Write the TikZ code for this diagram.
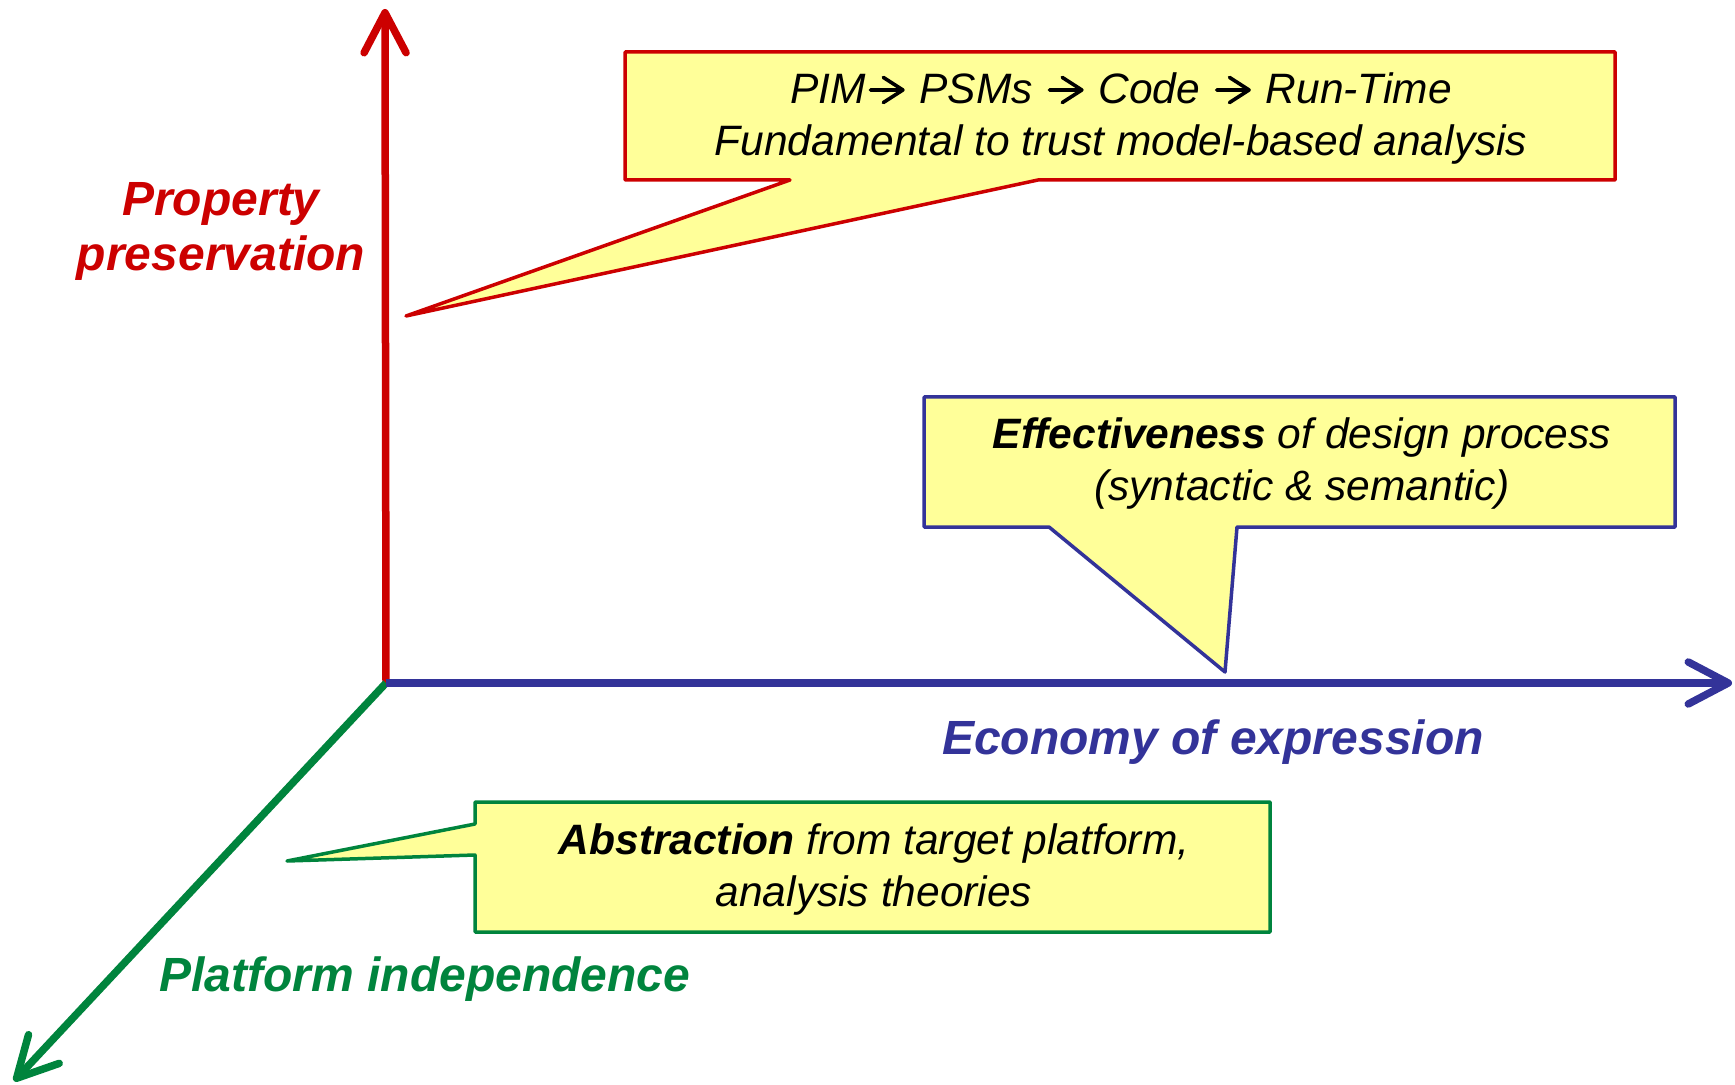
\documentclass[tikz,border=0pt]{standalone}
\usepackage{fontspec}
\setmainfont{Liberation Sans}
\usetikzlibrary{arrows.meta}
\definecolor{axred}{HTML}{CC0000}
\definecolor{axblue}{HTML}{333399}
\definecolor{axgreen}{HTML}{00843D}
\definecolor{notefill}{HTML}{FFFF99}
% upright chevron arrow used inside the transformation chain
\newcommand{\thru}{\hspace{1.5pt}\tikz[baseline=0pt,x=1pt,y=1pt]\draw[line width=1.8pt,line cap=round,line join=round]
  (0.9,7) -- (16.9,7) (7.3,13.3) -- (17.1,7) -- (7.3,0.7);\hspace{1.5pt}}
\begin{document}
\begin{tikzpicture}[x=0.5pt,y=-0.5pt,line join=round,
  axis/.style={line width=3.75pt,-{Straight Barb[length=20pt,width=21pt,round]}},
  axislabel/.style={font=\fontsize{24}{28}\selectfont\bfseries\itshape,align=center,inner sep=0pt},
  notebox/.style={fill=notefill,line width=1.75pt},
  notetext/.style={font=\fontsize{21.25}{26}\selectfont\itshape,align=center,inner sep=0pt}]
\useasboundingbox (0,0) rectangle (1735,1085);

% axes
\coordinate (O) at (386,683);
\coordinate (ytip) at (385,9);
\coordinate (xtip) at (1732,683);
\coordinate (ztip) at (14,1081);
\draw[axis,axred] (O) -- (ytip);
\draw[axis,axgreen] (O) -- (ztip);
\draw[axis,axblue] (O) -- (xtip);

% axis labels
\node[axislabel,text=axred] (plabel) at (221,231) {Property\\[-0.5pt]preservation};
\node[axislabel,text=axblue] (elabel) at (1213,742) {Economy of expression};
\node[axislabel,text=axgreen] (ilabel) at (425,979) {Platform independence};

% property-preservation note
\coordinate (rtip) at (406,316);
\draw[notebox,draw=axred] (625,52) -- (1615,52) -- (1615,180) -- (1038,180)
  -- (rtip) -- (790,180) -- (625,180) -- cycle;
\node[notetext] (rnote) at (1121,119)
  {PIM\thru{} PSMs \thru{} Code \thru{} Run-Time\\Fundamental to trust model-based analysis};

% economy-of-expression note
\coordinate (btip) at (1225,672);
\draw[notebox,draw=axblue] (924,397) -- (1675,397) -- (1675,527) -- (1237,527)
  -- (btip) -- (1049,527) -- (924,527) -- cycle;
\node[notetext] (bnote) at (1302,464)
  {\textbf{Effectiveness} of design process\\(syntactic \& semantic)};

% platform-independence note
\coordinate (gtip) at (287,861);
\draw[notebox,draw=axgreen] (475,802) -- (1270,802) -- (1270,932) -- (475,932)
  -- (475,855) -- (gtip) -- (475,824) -- cycle;
\node[notetext] (gnote) at (874,870)
  {\textbf{Abstraction} from target platform,\\analysis theories};
\end{tikzpicture}
\end{document}
